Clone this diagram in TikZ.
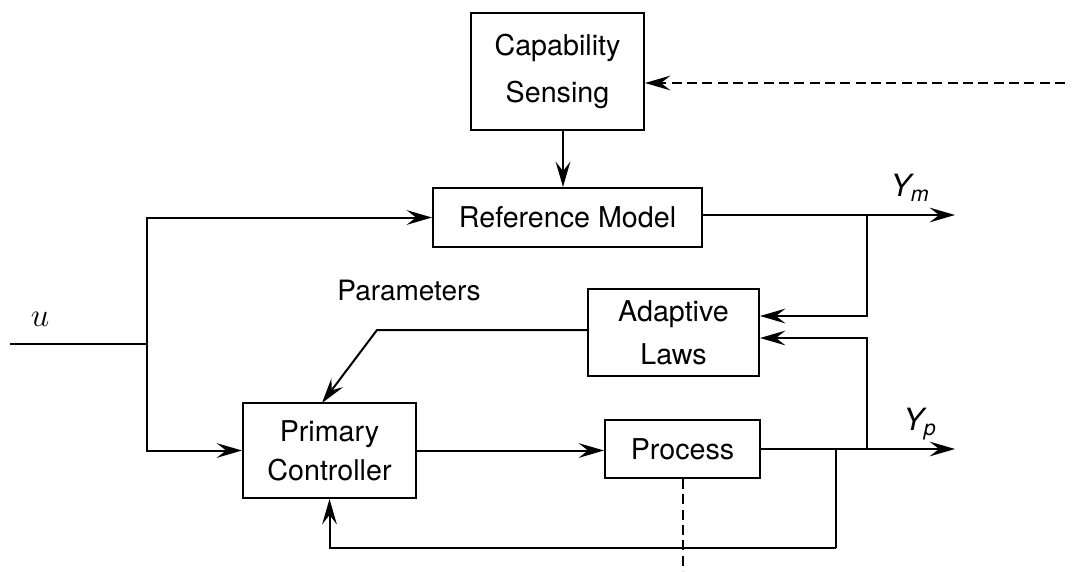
\documentclass[tikz,border=0pt]{standalone}
\usepackage{fontspec}
\setmainfont{TeX Gyre Heros}
\usetikzlibrary{arrows.meta}

\tikzset{
  blk/.style={draw, line width=1.5pt, inner sep=0pt, align=center, font=\fontsize{21.5}{32}\selectfont},
  sig/.style={line width=1.5pt, -{Stealth[length=19pt,width=11pt,inset=7pt]}},
  wire/.style={line width=1.5pt},
  dsh/.style={line width=1.5pt, dash pattern=on 7.5pt off 4pt},
  lbl/.style={inner sep=0pt, font=\fontsize{21}{26}\selectfont},
  outlbl/.style={inner sep=0pt, font=\fontsize{23}{23}\selectfont\itshape}
}

\begin{document}
\begin{tikzpicture}[x=0.75pt,y=0.75pt,yscale=-1,xscale=1]
\useasboundingbox (0,0) rectangle (1077,571);

%Blocks
\node [blk, minimum width=129.75pt, minimum height=87.75pt] (cap) at (557.5,71.5) {Capability\\[3pt]Sensing};
\node [blk, minimum width=201.75pt, minimum height=44.25pt] (ref) at (567.5,217.5) {Reference Model};
\node [blk, minimum width=128.25pt, minimum height=65.25pt] (adapt) at (673.5,332.5) {Adaptive\\Laws};
\node [blk, minimum width=129.75pt, minimum height=71.25pt] (ctrl) at (329.5,450.5) {Primary\\[-3pt]Controller};
\node [blk, minimum width=116.25pt, minimum height=43.5pt] (proc) at (682.5,449) {Process};

%Free ends and branch points
\coordinate (uin) at (10,344);
\coordinate (usplit) at (147,344);
\coordinate (dsrc) at (1065,83);
\coordinate (capout) at (563,130);
\coordinate (ym) at (955,215);
\coordinate (ymsplit) at (867,215);
\coordinate (adin1) at (867,316);
\coordinate (adin2) at (867,338);
\coordinate (yp) at (955,449);
\coordinate (ypsplit) at (867,449);
\coordinate (fbsplit) at (836,449);
\coordinate (fbbot) at (836,548);
\coordinate (pbend) at (377,330);
\coordinate (partip) at (322,403);
\coordinate (dout) at (682.5,571);

%Input u
\draw [wire] (uin) -- (usplit);
\draw [sig] (usplit) |- (ref.west);
\draw [sig] (usplit) |- (ctrl.west);

%Capability sensing
\draw [dsh, -{Stealth[length=19pt,width=11pt,inset=7pt]}] (dsrc) -- (dsrc -| cap.east);
\draw [sig] (capout) -- (capout |- ref.north);

%Model output
\draw [sig] (ref.east |- ym) -- (ym);
\draw [sig] (ymsplit) -- (adin1) -- (adin1 -| adapt.east);

%Adaptive laws to controller
\draw [sig] (adapt.west |- pbend) -- (pbend) -- (partip);

%Controller and process
\draw [sig] (ctrl.east) -- (ctrl.east -| proc.west);
\draw [sig] (proc.east) -- (yp);
\draw [sig] (ypsplit) -- (adin2) -- (adin2 -| adapt.east);
\draw [wire] (fbsplit) -- (fbbot);
\draw [sig] (fbbot) -| (ctrl.south);
\draw [dsh] (proc.south) -- (dout);

% Text Node
\node [lbl, font=\fontsize{23}{26}\selectfont] (ulbl) at (40,319) {$u$};
\node [lbl] (parlbl) at (409,290) {Parameters};
\node [outlbl] (ymlbl) at (910,188) {Y\textsubscript{m}};
\node [outlbl] (yplbl) at (920,424) {Y\textsubscript{p}};

\end{tikzpicture}
\end{document}
